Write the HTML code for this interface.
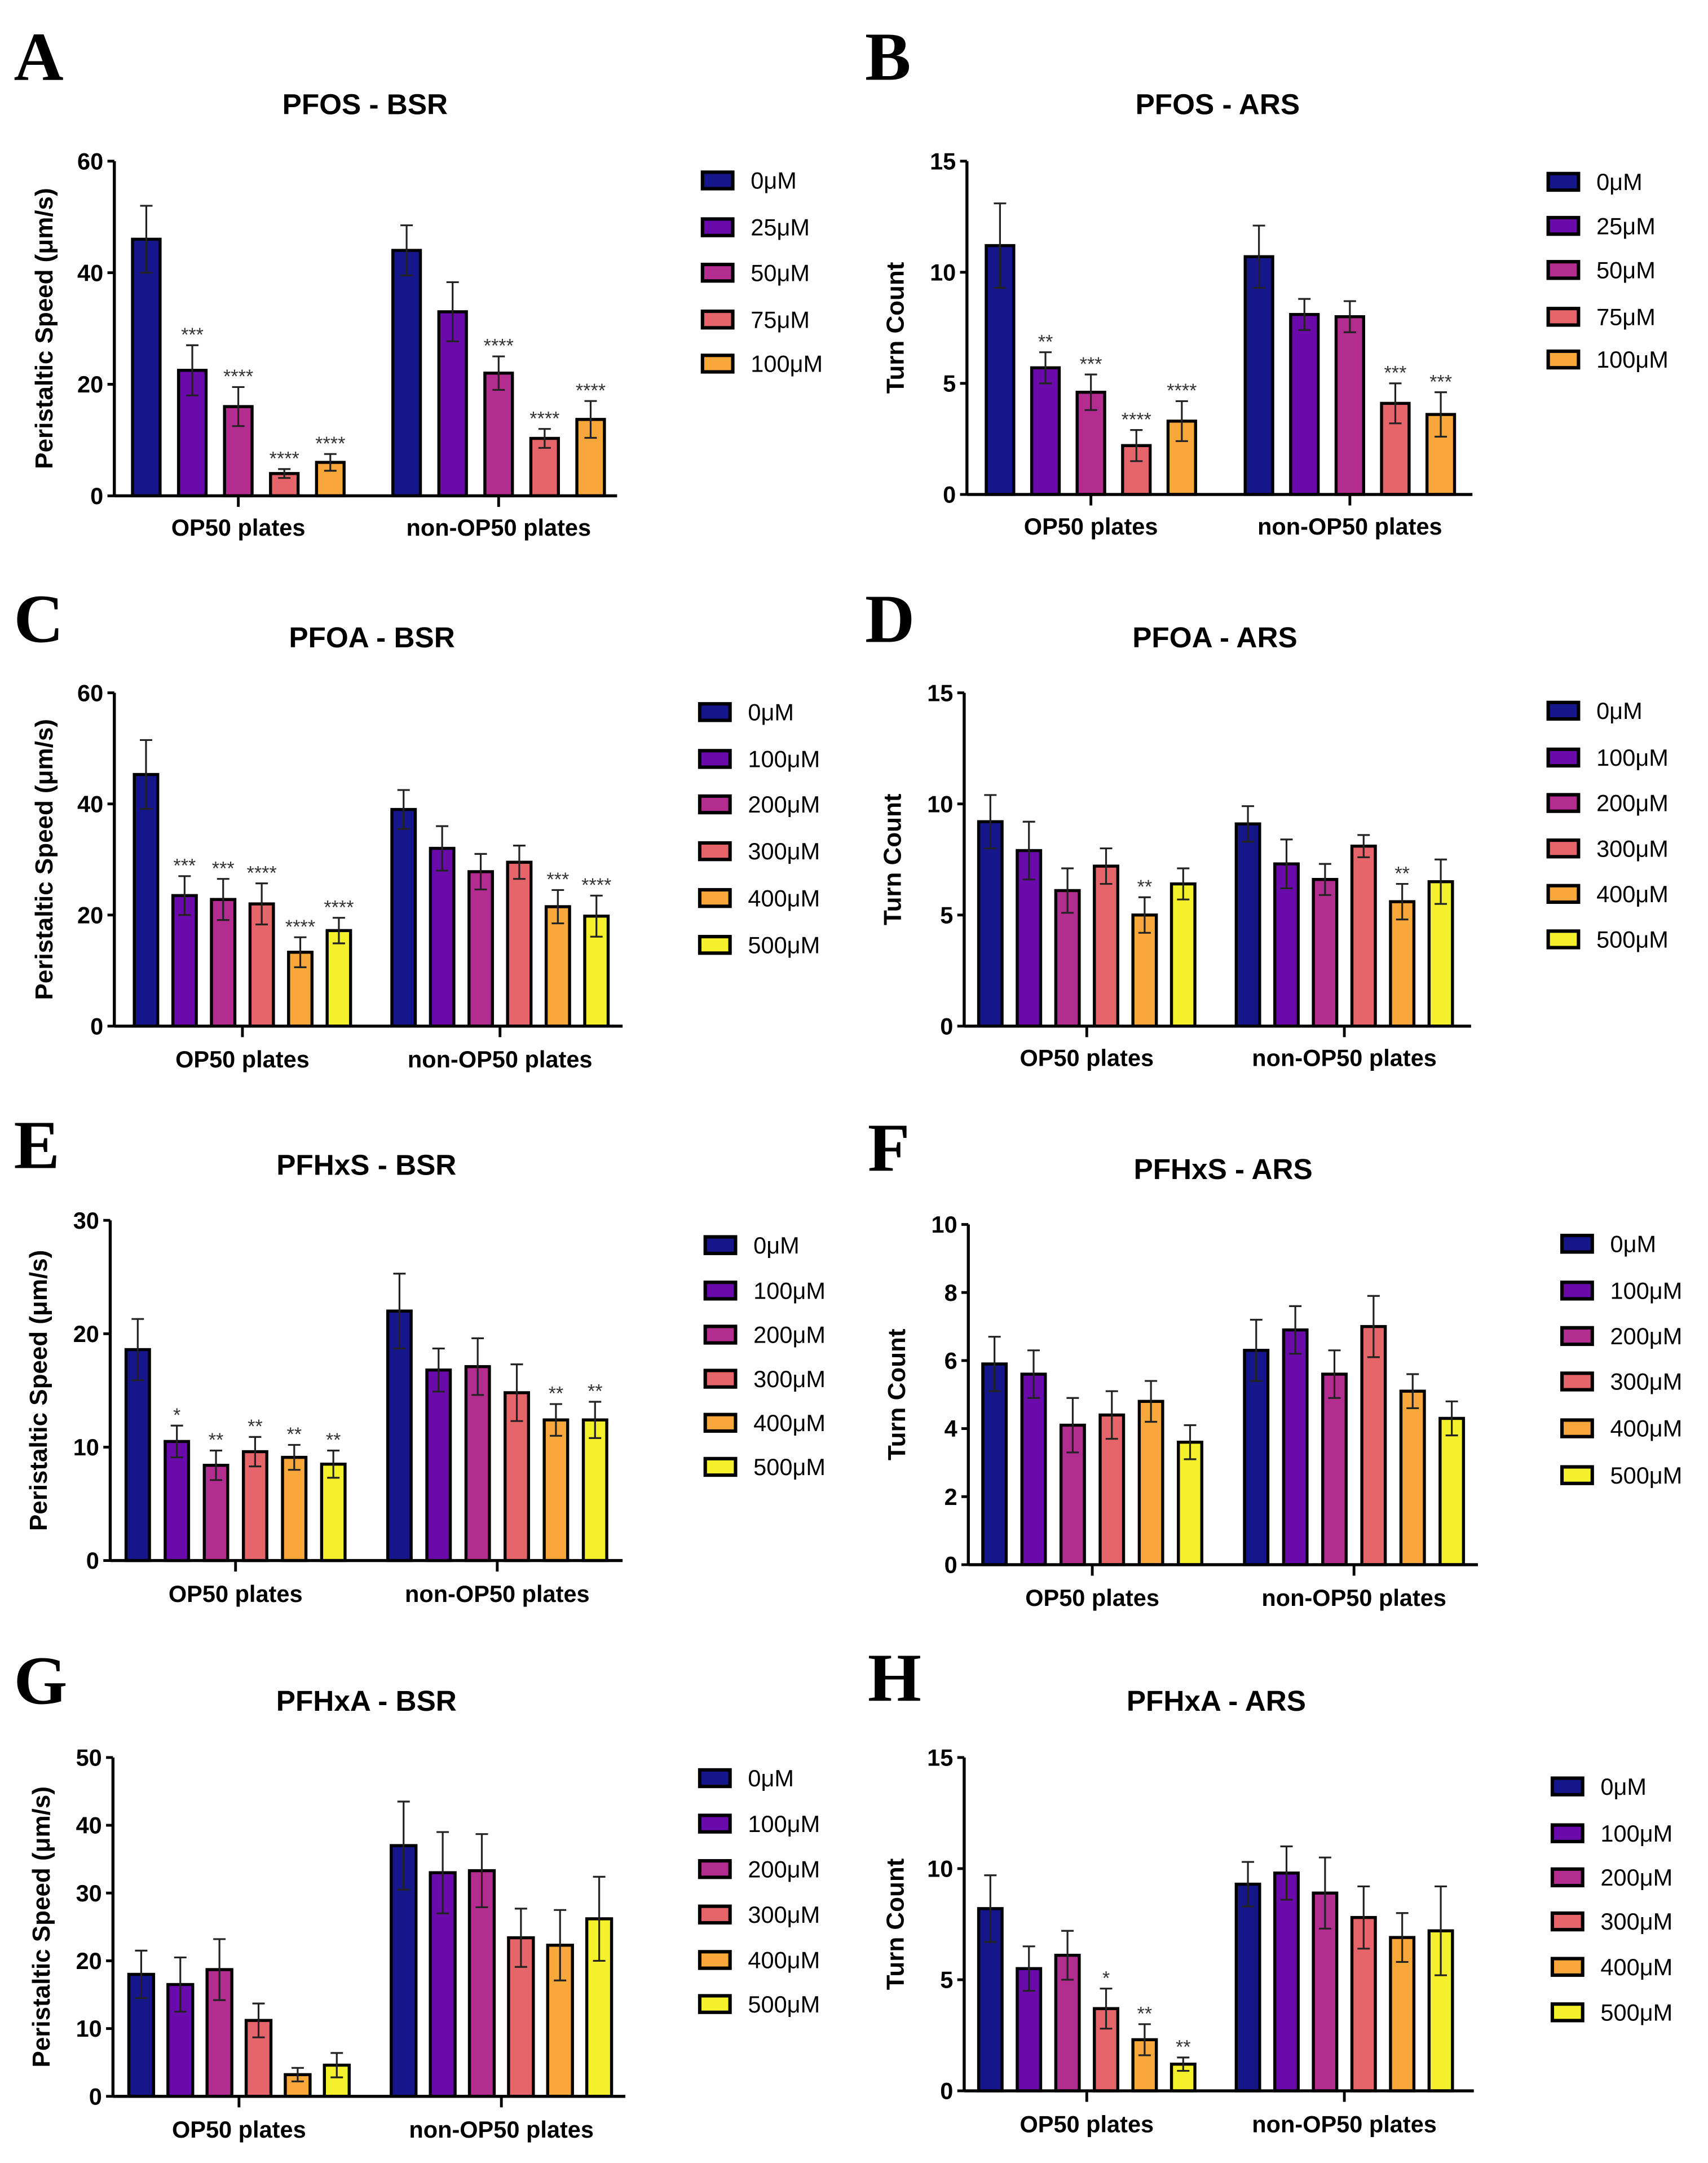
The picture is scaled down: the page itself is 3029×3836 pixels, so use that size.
<!DOCTYPE html>
<html><head><meta charset="utf-8">
<style>
html,body{margin:0;padding:0;background:#fff;}
svg{display:block;}
text{font-family:"Liberation Sans",Arial,sans-serif;}
</style></head>
<body>
<svg id="fig" width="3029" height="3836" viewBox="0 0 1240 1570.4" xmlns="http://www.w3.org/2000/svg"></svg>
<script>
// ---- data ----
const groups = ["OP50 plates","non-OP50 plates"];
const colors6 = ["#15168a","#6a0aab","#b22d8f","#e5656a","#f8a83a","#f4f02c"];

const dosesA = ["0μM","25μM","50μM","75μM","100μM"];
const dosesC = ["0μM","100μM","200μM","300μM","400μM","500μM"];

const aOp = [46,22.5,16,4,6];           const aOpHi = [52,27,19.5,4.8,7.5];
const aNon = [44,33,22,10.3,13.7];      const aNonHi = [48.5,38.3,25,12,17];
const aOpStars = ["","***","****","****","****"];
const aNonStars = ["","","****","****","****"];

const bOp = [11.2,5.7,4.6,2.2,3.3];     const bOpHi = [13.1,6.4,5.4,2.9,4.2];
const bNon = [10.7,8.1,8.0,4.1,3.6];    const bNonHi = [12.1,8.8,8.7,5.0,4.6];
const bOpStars = ["","**","***","****","****"];
const bNonStars = ["","","","***","***"];

const cOp = [45.3,23.5,22.8,22,13.3,17.2];  const cOpHi = [51.5,27,26.5,25.7,16,19.5];
const cNon = [39,32,27.8,29.5,21.5,19.8];   const cNonHi = [42.5,36,31,32.5,24.5,23.5];
const cOpStars = ["","***","***","****","****","****"];
const cNonStars = ["","","","","***","****"];

const dOp = [9.2,7.9,6.1,7.2,5.0,6.4];  const dOpHi = [10.4,9.2,7.1,8.0,5.8,7.1];
const dNon = [9.1,7.3,6.6,8.1,5.6,6.5]; const dNonHi = [9.9,8.4,7.3,8.6,6.4,7.5];
const dOpStars = ["","","","","**",""];
const dNonStars = ["","","","","**",""];

const eOp = [18.6,10.5,8.4,9.6,9.1,8.5];     const eOpHi = [21.3,11.9,9.7,10.9,10.2,9.7];
const eNon = [22,16.8,17.1,14.8,12.4,12.4];  const eNonHi = [25.3,18.7,19.6,17.3,13.8,14];
const eOpStars = ["","*","**","**","**","**"];
const eNonStars = ["","","","","**","**"];

const fOp = [5.9,5.6,4.1,4.4,4.8,3.6];  const fOpHi = [6.7,6.3,4.9,5.1,5.4,4.1];
const fNon = [6.3,6.9,5.6,7.0,5.1,4.3]; const fNonHi = [7.2,7.6,6.3,7.9,5.6,4.8];
const fOpStars = ["","","","","",""];
const fNonStars = ["","","","","",""];

const gOp = [18,16.5,18.7,11.2,3.2,4.6];       const gOpHi = [21.5,20.5,23.2,13.7,4.2,6.4];
const gNon = [37,33,33.3,23.4,22.3,26.2];      const gNonHi = [43.5,39,38.7,27.7,27.5,32.4];
const gOpStars = ["","","","","",""];
const gNonStars = ["","","","","",""];

const hOp = [8.2,5.5,6.1,3.7,2.3,1.2];   const hOpHi = [9.7,6.5,7.2,4.6,3.0,1.5];
const hNon = [9.3,9.8,8.9,7.8,6.9,7.2];  const hNonHi = [10.3,11.0,10.5,9.2,8.0,9.2];
const hOpStars = ["","","","*","**","**"];
const hNonStars = ["","","","","",""];

const ticksBSR60 = [0,20,40,60];
const ticksARS15 = [0,5,10,15];
const ticksBSR30 = [0,10,20,30];
const ticksARS10 = [0,2,4,6,8,10];
const ticksBSR50 = [0,10,20,30,40,50];

// ---- layout ----
const panels = [
 {id:"a",letter:"A",lx:10,ly:58,title:"PFOS - BSR",tx:265,ty:83,ax:83,top:117,bot:360,end:448,max:60,ticks:ticksBSR60,yl:"Peristaltic Speed (μm/s)",ylx:38,doses:dosesA,op:aOp,opHi:aOpHi,non:aNon,nonHi:aNonHi,os:aOpStars,ns:aNonStars,g1:173,g2:362,step:33.4,bw:20,legX:510,legY:[131,165,198,232,264],glY:389},
 {id:"b",letter:"B",lx:628,ly:58,title:"PFOS - ARS",tx:884,ty:83,ax:702,top:117,bot:359,end:1069,max:15,ticks:ticksARS15,yl:"Turn Count",ylx:656,doses:dosesA,op:bOp,opHi:bOpHi,non:bNon,nonHi:bNonHi,os:bOpStars,ns:bNonStars,g1:792,g2:980,step:33,bw:20,legX:1124,legY:[132,164,196,230,261],glY:388},
 {id:"c",letter:"C",lx:10,ly:466,title:"PFOA - BSR",tx:270,ty:470,ax:83,top:503,bot:745,end:452,max:60,ticks:ticksBSR60,yl:"Peristaltic Speed (μm/s)",ylx:38,doses:dosesC,op:cOp,opHi:cOpHi,non:cNon,nonHi:cNonHi,os:cOpStars,ns:cNonStars,g1:176,g2:363,step:28,bw:17,legX:508,legY:[517,551,584,618,652,686],glY:775},
 {id:"d",letter:"D",lx:628,ly:466,title:"PFOA - ARS",tx:882,ty:470,ax:700,top:503,bot:745,end:1068,max:15,ticks:ticksARS15,yl:"Turn Count",ylx:654,doses:dosesC,op:dOp,opHi:dOpHi,non:dNon,nonHi:dNonHi,os:dOpStars,ns:dNonStars,g1:789,g2:976,step:28,bw:17,legX:1124,legY:[516,550,583,616,649,682],glY:774},
 {id:"e",letter:"E",lx:10,ly:848,title:"PFHxS - BSR",tx:266,ty:853,ax:80,top:886,bot:1133,end:452,max:30,ticks:ticksBSR30,yl:"Peristaltic Speed (μm/s)",ylx:34,doses:dosesC,op:eOp,opHi:eOpHi,non:eNon,nonHi:eNonHi,os:eOpStars,ns:eNonStars,g1:171,g2:361,step:28.4,bw:17,legX:512,legY:[904,937,969,1001,1033,1065],glY:1163},
 {id:"f",letter:"F",lx:630,ly:850,title:"PFHxS - ARS",tx:888,ty:856,ax:703,top:889,bot:1136,end:1073,max:10,ticks:ticksARS10,yl:"Turn Count",ylx:657,doses:dosesC,op:fOp,opHi:fOpHi,non:fNon,nonHi:fNonHi,os:fOpStars,ns:fNonStars,g1:793,g2:983,step:28.4,bw:17,legX:1134,legY:[903,937,970,1003,1037,1071],glY:1166},
 {id:"g",letter:"G",lx:10,ly:1237,title:"PFHxA - BSR",tx:266,ty:1242,ax:82,top:1276,bot:1522,end:454,max:50,ticks:ticksBSR50,yl:"Peristaltic Speed (μm/s)",ylx:36,doses:dosesC,op:gOp,opHi:gOpHi,non:gNon,nonHi:gNonHi,os:gOpStars,ns:gNonStars,g1:173.5,g2:364,step:28.4,bw:18,legX:508,legY:[1291,1324,1357,1390,1423,1455],glY:1552},
 {id:"h",letter:"H",lx:630,ly:1235,title:"PFHxA - ARS",tx:883,ty:1242,ax:700,top:1276,bot:1518,end:1070,max:15,ticks:ticksARS15,yl:"Turn Count",ylx:656,doses:dosesC,op:hOp,opHi:hOpHi,non:hNon,nonHi:hNonHi,os:hOpStars,ns:hNonStars,g1:789,g2:976,step:28,bw:17,legX:1127,legY:[1297,1331,1363,1395,1428,1461],glY:1548}
];

const NS="http://www.w3.org/2000/svg";
const svg=document.getElementById("fig");
function mk(tag,attrs,parent){const e=document.createElementNS(NS,tag);for(const k in attrs)e.setAttribute(k,attrs[k]);(parent||svg).appendChild(e);return e;}

panels.forEach(p=>{
  const g=mk("g",{});
  
  
  const yS=v=>p.bot-(v/p.max)*(p.bot-p.top);
  const n=p.doses.length;
  const xS=(gi,i)=>(gi===0?p.g1:p.g2)+(i-(n-1)/2)*p.step;

  let t=mk("text",{x:p.lx,y:p.ly,style:"font-family:'Liberation Serif',serif;font-weight:bold;font-size:50px"},g);
  t.textContent=p.letter;
  
  

  t=mk("text",{x:p.tx,y:p.ty,"text-anchor":"middle","font-weight":"bold","font-size":21},g);
  t.textContent=p.title;
  
  

  // bars
  [[p.op,p.opHi,p.os],[p.non,p.nonHi,p.ns]].forEach((grp,gi)=>{
    grp[0].forEach((v,i)=>{
      const cx=xS(gi,i);
      const r=mk("rect",{x:cx-p.bw/2,y:yS(v),width:p.bw,height:p.bot-yS(v),fill:colors6[i],stroke:"#000","stroke-width":2.2},g);
      
      
      const hi=grp[1][i], lo=v-(hi-v);
      const eb=mk("path",{d:`M${cx},${yS(lo)}V${yS(hi)}M${cx-4.5},${yS(hi)}H${cx+4.5}M${cx-4.5},${yS(lo)}H${cx+4.5}`,stroke:"#222","stroke-width":1.3,fill:"none"},g);
      
      
      if(grp[2][i]){
        const s=mk("text",{x:cx,y:yS(hi)-3,"text-anchor":"middle","font-size":14,fill:"#333"},g);
        s.textContent=grp[2][i];
        
        
      }
    });
  });

  // axes
  const ya=mk("path",{d:`M${p.ax},${p.top}V${p.bot}`,stroke:"#000","stroke-width":2.2,fill:"none"},g);
  
  
  p.ticks.forEach(tv=>{
    mk("path",{d:`M${p.ax-5},${yS(tv)}H${p.ax}`,stroke:"#000","stroke-width":2},g);
    const tl=mk("text",{x:p.ax-8,y:yS(tv)+6,"text-anchor":"end","font-weight":"bold","font-size":17},g);
    tl.textContent=tv;
    
    
  });
  const xa=mk("path",{d:`M${p.ax},${p.bot}H${p.end}`,stroke:"#000","stroke-width":2.2,fill:"none"},g);
  
  
  [p.g1,p.g2].forEach((gx,gi)=>{
    mk("path",{d:`M${gx},${p.bot}V${p.bot+8}`,stroke:"#000","stroke-width":2},g);
    const gl=mk("text",{x:gx,y:p.glY,"text-anchor":"middle","font-weight":"bold","font-size":17},g);
    gl.textContent=groups[gi];
    
    
  });
  const ymid=(p.top+p.bot)/2;
  const yt=mk("text",{x:p.ylx,y:ymid,"text-anchor":"middle","font-weight":"bold","font-size":18,transform:`rotate(-90 ${p.ylx} ${ymid})`},g);
  yt.textContent=p.yl;
  
  

  // legend
  p.doses.forEach((d,i)=>{
    const ly=p.legY[i];
    const sw=mk("rect",{x:p.legX,y:ly-6,width:22,height:12,fill:colors6[i],stroke:"#000","stroke-width":2.5},g);
    
    
    const lt=mk("text",{x:p.legX+35,y:ly+6,"font-size":17},g);
    lt.textContent=d;
    
    
  });
});
</script>
</body></html>
